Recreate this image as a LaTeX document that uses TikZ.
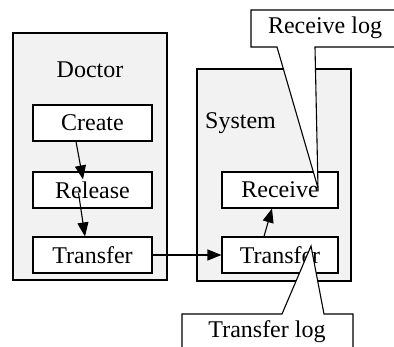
\documentclass[tikz,border=0pt]{standalone}
\usepackage{fontspec}
\setmainfont{Liberation Serif}
\usetikzlibrary{arrows.meta,calc}
\definecolor{clusterfill}{HTML}{F2F2F2}
\tikzset{
  lbl/.style={font=\fontsize{24}{26}\selectfont, inner sep=0pt},
  stepbox/.style={draw, fill=white, line width=1.1pt, minimum width=119pt, minimum height=36pt, inner sep=0pt, font=\fontsize{24}{26}\selectfont},
  cluster/.style={draw, fill=clusterfill, line width=1.1pt},
  flow/.style={line width=1.1pt, -{Triangle[length=14pt,width=11pt]}},
  note/.style={draw, fill=white, line width=1.1pt, line join=miter}
}
\begin{document}
\begin{tikzpicture}[x=1pt, y=-1pt]
  \useasboundingbox (0,0) rectangle (394,347);
  \clip (0,0) rectangle (394,347);

  % swimlane frames
  \draw[cluster] (13,33) rectangle (167,280);
  \draw[cluster] (197,69) rectangle (351,281);
  \node[lbl] (doctor) at (90,70) {Doctor};
  \node[lbl, anchor=west] (system) at (205,123) {System};

  % steps
  \node[stepbox] (create)  at (92.5,123) {Create};
  \node[stepbox] (release) at (92.5,190) {Release};
  \node[stepbox] (dtrans)  at (92.5,255) {Transfer};
  \node[stepbox, minimum width=116pt] (receive) at (280,190) {Receive};
  \node[stepbox, minimum width=116pt] (strans)  at (280,255) {Transfer};

  % flow between steps
  \draw[flow] ([xshift=-16.5pt]create.south) -- ([xshift=-9.5pt,yshift=-8pt]release.north);
  \draw[flow] ([xshift=-14pt,yshift=-3pt]release.center) -- ([xshift=-7.5pt]dtrans.north);
  \draw[flow] (dtrans.east) -- (strans.west);
  \draw[flow] ([xshift=-16pt]strans.north) -- ([xshift=-8pt]receive.south);

  % log callouts
  \coordinate (rtip) at ([xshift=38pt,yshift=2pt]receive.center);
  \coordinate (ttip) at ([xshift=31pt,yshift=9pt]strans.center);
  \draw[note] (251,10) -- (400,10) -- (400,47) -- (315,47) -- (rtip) -- (277,47) -- (251,47) -- cycle;
  \draw[note] (182,352) -- (182,314) -- (282,314) -- (ttip) -- (324,314) -- (353,314) -- (353,352) -- cycle;
  \node[lbl] (rlog) at (325,28) {Receive log};
  \node[lbl] (tlog) at (267,332) {Transfer log};
\end{tikzpicture}
\end{document}
